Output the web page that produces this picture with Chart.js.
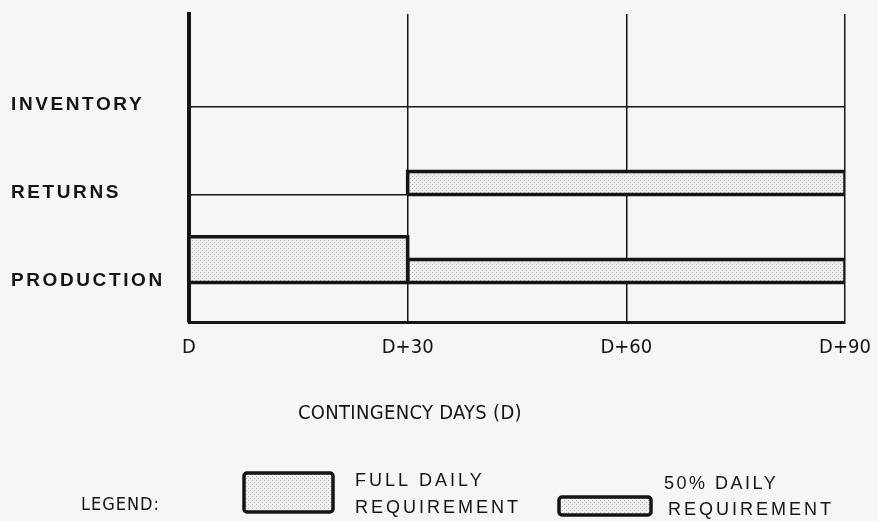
<!DOCTYPE html>
<html>
<head>
<meta charset="utf-8">
<script src="https://cdn.jsdelivr.net/npm/chart.js@4.4.0/dist/chart.umd.min.js"></script>
<style>
  html, body { margin: 0; padding: 0; background: #f6f6f4; }
  #wrap { width: 878px; height: 521px; position: relative; }
</style>
</head>
<body>
<div id="wrap"><canvas id="grafico"></canvas></div>
<script>
// Linhas (de baixo para cima) e marcas do eixo de dias
const rows = ['PRODUCTION', 'RETURNS', 'INVENTORY'];
const days = [0, 30, 60, 90];
const dayLabels = ['D', 'D+30', 'D+60', 'D+90'];
const axisTitle = 'CONTINGENCY DAYS (D)';

// Barras: linha, início, fim (dias) e fração da necessidade diária
const barRow = ['PRODUCTION', 'PRODUCTION', 'RETURNS'];
const barStart = [0, 30, 30];
const barEnd = [30, 90, 90];
const barRequirement = [1.0, 0.5, 0.5];

// Legenda
const legendTitle = 'LEGEND:';
const legendFull = ['FULL DAILY', 'REQUIREMENT'];
const legendHalf = ['50% DAILY', 'REQUIREMENT'];

const BAR_UNIT = 0.52; // altura de uma necessidade completa, em unidades do eixo y
const INK = '#141414';
const NARROW = '"Liberation Sans Narrow", "DejaVu Sans Condensed", "Liberation Sans", sans-serif';

// Padrão pontilhado das barras
function criarPadrao() {
    const c = document.createElement('canvas');
    c.width = 4; c.height = 4;
    const g = c.getContext('2d');
    g.fillStyle = '#efefed';
    g.fillRect(0, 0, 4, 4);
    g.fillStyle = '#bdbdbb';
    g.fillRect(0, 0, 1, 1);
    g.fillRect(2, 2, 1, 1);
    return g.createPattern(c, 'repeat');
}
const padrao = criarPadrao();

// Cada barra vira um retângulo fechado (linha com preenchimento 'shape')
const datasets = barStart.map((inicio, i) => {
    const y0 = rows.indexOf(barRow[i]) + 1;
    const y1 = y0 + barRequirement[i] * BAR_UNIT;
    const fim = barEnd[i];
    return {
        type: 'line',
        data: [
            { x: inicio, y: y0 }, { x: fim, y: y0 }, { x: fim, y: y1 },
            { x: inicio, y: y1 }, { x: inicio, y: y0 }
        ],
        fill: 'shape',
        backgroundColor: padrao,
        borderColor: INK,
        borderWidth: 3.5,
        borderJoinStyle: 'miter',
        pointRadius: 0,
        tension: 0
    };
});

function textoEspacado(ctx, txt, x, y, espaco) {
    ctx.letterSpacing = espaco + 'px';
    ctx.fillText(txt, x, y);
    ctx.letterSpacing = '0px';
}

function caixa(ctx, x, y, w, h) {
    ctx.beginPath();
    ctx.roundRect(x, y, w, h, 3);
    ctx.fillStyle = padrao;
    ctx.fill();
    ctx.lineWidth = 3.5;
    ctx.strokeStyle = INK;
    ctx.stroke();
}

// Rótulos das linhas, título do eixo e legenda
const decoracao = {
    id: 'decoracao',
    afterDraw(chart) {
        const { ctx, scales: { y } } = chart;
        ctx.save();
        ctx.fillStyle = INK;
        ctx.textBaseline = 'middle';
        ctx.textAlign = 'left';

        ctx.font = 'bold 19px "Liberation Sans", Arial, sans-serif';
        rows.forEach((r, i) => textoEspacado(ctx, r, 11, y.getPixelForValue(i + 1) - 2, 2.6));

        ctx.font = '20px ' + NARROW;
        textoEspacado(ctx, axisTitle, 298, 414, 0.3);

        ctx.textAlign = 'right';
        ctx.font = '18px ' + NARROW;
        textoEspacado(ctx, legendTitle, 160, 505, 1);
        ctx.textAlign = 'left';

        caixa(ctx, 244, 473, 89, 39);
        ctx.fillStyle = INK;
        ctx.font = '18px "Liberation Sans", Arial, sans-serif';
        textoEspacado(ctx, legendFull[0], 355, 481, 3);
        textoEspacado(ctx, legendFull[1], 355, 508, 3);

        caixa(ctx, 559, 497, 92, 18);
        ctx.fillStyle = INK;
        textoEspacado(ctx, legendHalf[0], 664, 484, 2.5);
        textoEspacado(ctx, legendHalf[1], 668, 510, 3);
        ctx.restore();
    }
};

new Chart(document.getElementById('grafico'), {
    type: 'line',
    data: { datasets },
    options: {
        responsive: true,
        maintainAspectRatio: false,
        animation: false,
        events: [],
        layout: { padding: { top: 14, right: 33, bottom: 159, left: 0 } },
        plugins: { legend: { display: false }, tooltip: { enabled: false } },
        scales: {
            x: {
                type: 'linear',
                min: 0,
                max: 90,
                z: 1,
                afterBuildTicks: s => { s.ticks = days.map(v => ({ value: v })); },
                afterFit: s => { s.height = 40; s.paddingLeft = 0; s.paddingRight = 0; },
                grid: { color: INK, lineWidth: 1.5, drawTicks: false },
                border: { color: INK, width: 3 },
                ticks: {
                    padding: 14,
                    color: INK,
                    font: { family: NARROW, size: 20 },
                    maxRotation: 0,
                    callback: v => dayLabels[days.indexOf(v)]
                }
            },
            y: {
                type: 'linear',
                min: 0.55,
                max: 4.05,
                afterBuildTicks: s => { s.ticks = rows.map((r, i) => ({ value: i + 1 })); },
                afterFit: s => { s.width = 189; },
                grid: { color: INK, lineWidth: 1.5, drawTicks: false },
                border: { color: INK, width: 4 },
                ticks: { display: false }
            }
        }
    },
    plugins: [decoracao]
});
</script>
</body>
</html>
